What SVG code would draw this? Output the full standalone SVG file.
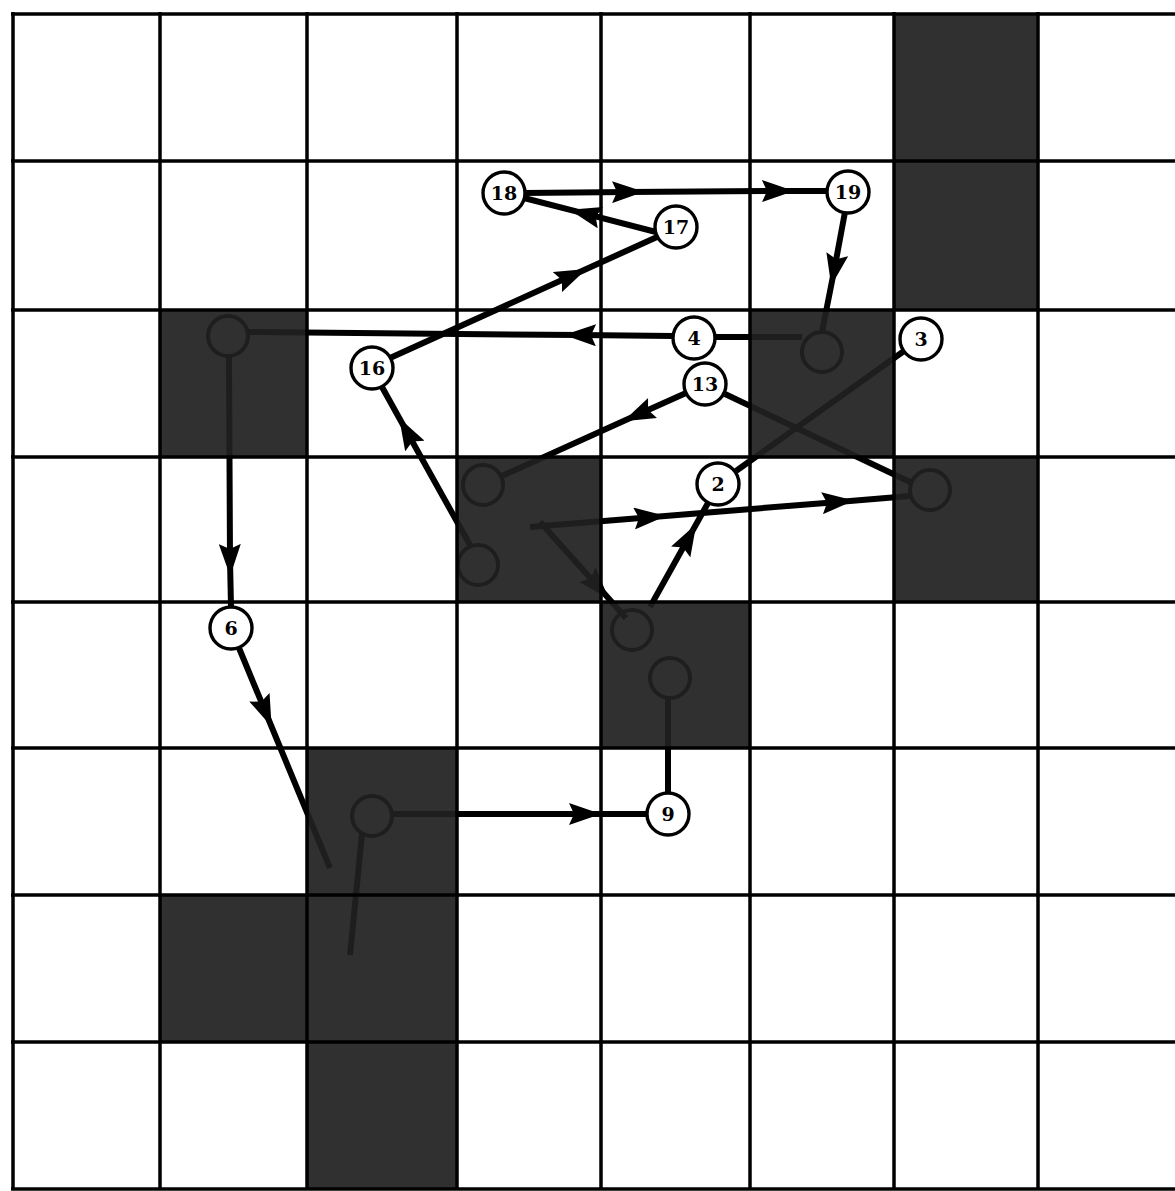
<svg xmlns="http://www.w3.org/2000/svg" width="1175" height="1191" viewBox="0 0 1175 1191">
<style>
.grid line{stroke:#000;stroke-width:3.5}
.dark{fill:#202020;fill-opacity:0.93}
.edge{fill:none;stroke:#000;stroke-width:6;stroke-linejoin:round}
.hidnode{fill:none;stroke:#000;stroke-width:4}
.node circle{fill:#fff;stroke:#000;stroke-width:3.4}
.node text{font-family:"DejaVu Serif","Liberation Serif",serif;font-weight:bold;font-size:19px;text-anchor:middle;dominant-baseline:central;fill:#000}
</style>
<defs>
<marker id="arr" markerUnits="userSpaceOnUse" markerWidth="32" markerHeight="22" viewBox="0 0 32 22" refX="16" refY="11" orient="auto">
<path d="M0,0 L32,11 L0,22 L5,11 z" fill="#000"/>
</marker>
</defs>
<rect x="0" y="0" width="1175" height="1191" fill="#fff"/>
<g id="hidden-nodes">
<circle class="hidnode" cx="228" cy="336" r="20"/>
<circle class="hidnode" cx="822" cy="352" r="20"/>
<circle class="hidnode" cx="483" cy="485" r="20"/>
<circle class="hidnode" cx="478" cy="565" r="20"/>
<circle class="hidnode" cx="930" cy="490" r="20"/>
<circle class="hidnode" cx="632" cy="630" r="20"/>
<circle class="hidnode" cx="670" cy="678" r="20"/>
<circle class="hidnode" cx="372" cy="816" r="20"/>
</g>
<g id="connectors">
<path class="edge" d="M523,193 L628,192 L778,191 L828,191" marker-mid="url(#arr)"/>
<path class="edge" d="M656,232 L585,213.7 L524,198" marker-mid="url(#arr)"/>
<path class="edge" d="M390,358 L572,275.5 L657,237" marker-mid="url(#arr)"/>
<path class="edge" d="M845,212 L834.2,270 L822,332" marker-mid="url(#arr)"/>
<path class="edge" d="M802,337 L716,337"/>
<path class="edge" d="M673,336 L580,335.1 L248,332" marker-mid="url(#arr)"/>
<path class="edge" d="M229,356 L230,560 L231,607" marker-mid="url(#arr)"/>
<path class="edge" d="M239,648 L265.5,712 L330,868" marker-mid="url(#arr)"/>
<path class="edge" d="M392,814 L585,814 L646,814" marker-mid="url(#arr)"/>
<path class="edge" d="M668,792 L668,698"/>
<path class="edge" d="M904,351 L736,471"/>
<path class="edge" d="M725,394 L910,482"/>
<path class="edge" d="M686,393 L638,414.6 L502,476" marker-mid="url(#arr)"/>
<path class="edge" d="M470,545 L407,432 L382,387" marker-mid="url(#arr)"/>
<path class="edge" d="M530,527 L650,517.2 L838,501.9 L910,496" marker-mid="url(#arr)"/>
<path class="edge" d="M650,607 L688.5,538 L708,503" marker-mid="url(#arr)"/>
<path class="edge" d="M540,522 L598,586.6 L626,618" marker-mid="url(#arr)"/>
<path class="edge" d="M362,834 L350,955"/>
</g>
<g id="dark-cells">
<rect class="dark" x="894" y="14" width="144" height="296"/>
<rect class="dark" x="160" y="310" width="147" height="147"/>
<rect class="dark" x="750" y="310" width="144" height="147"/>
<rect class="dark" x="457" y="457" width="144" height="145"/>
<rect class="dark" x="894" y="457" width="144" height="145"/>
<rect class="dark" x="601" y="602" width="149" height="146"/>
<rect class="dark" x="307" y="748" width="150" height="441"/>
<rect class="dark" x="160" y="895" width="147" height="147"/>
</g>
<g class="grid" id="grid">
<line x1="13" y1="12" x2="13" y2="1189"/>
<line x1="160" y1="12" x2="160" y2="1189"/>
<line x1="307" y1="12" x2="307" y2="1189"/>
<line x1="457" y1="12" x2="457" y2="1189"/>
<line x1="601" y1="12" x2="601" y2="1189"/>
<line x1="750" y1="12" x2="750" y2="1189"/>
<line x1="894" y1="12" x2="894" y2="1189"/>
<line x1="1038" y1="12" x2="1038" y2="1189"/>
<line x1="11" y1="14" x2="1175" y2="14"/>
<line x1="11" y1="161" x2="1175" y2="161"/>
<line x1="11" y1="310" x2="1175" y2="310"/>
<line x1="11" y1="457" x2="1175" y2="457"/>
<line x1="11" y1="602" x2="1175" y2="602"/>
<line x1="11" y1="748" x2="1175" y2="748"/>
<line x1="11" y1="895" x2="1175" y2="895"/>
<line x1="11" y1="1042" x2="1175" y2="1042"/>
<line x1="11" y1="1189" x2="1175" y2="1189"/>
</g>
<g class="node" id="n18"><circle cx="504" cy="193" r="21"/><text x="504" y="193">18</text></g>
<g class="node" id="n19"><circle cx="848" cy="192" r="21"/><text x="848" y="192">19</text></g>
<g class="node" id="n17"><circle cx="676" cy="227" r="21"/><text x="676" y="227">17</text></g>
<g class="node" id="n4"><circle cx="694" cy="338" r="21"/><text x="694" y="338">4</text></g>
<g class="node" id="n3"><circle cx="921" cy="339" r="21"/><text x="921" y="339">3</text></g>
<g class="node" id="n16"><circle cx="372" cy="368" r="21"/><text x="372" y="368">16</text></g>
<g class="node" id="n13"><circle cx="705" cy="384" r="21"/><text x="705" y="384">13</text></g>
<g class="node" id="n2"><circle cx="718" cy="484" r="21"/><text x="718" y="484">2</text></g>
<g class="node" id="n6"><circle cx="231" cy="628" r="21"/><text x="231" y="628">6</text></g>
<g class="node" id="n9"><circle cx="668" cy="814" r="21"/><text x="668" y="814">9</text></g>
</svg>
